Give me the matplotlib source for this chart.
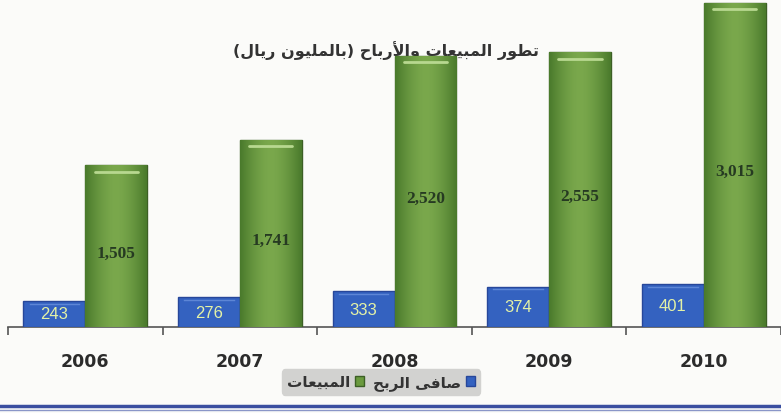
import numpy as np
import matplotlib
matplotlib.use("Agg")
import matplotlib.pyplot as plt
from matplotlib.lines import Line2D
from matplotlib.patches import Patch

years = ["2006", "2007", "2008", "2009", "2010"]
profit = [243, 276, 333, 374, 401]
sales = [1505, 1741, 2520, 2555, 3015]
title_ar = "تطور المبيعات والأرباح (بالمليون ريال)"
label_profit = "صافى الربح"
label_sales = "المبيعات"

# --- tiny arabic shaper (matplotlib has no complex text layout) ---
FORMS = {
    "ا": ("\uFE8D", "\uFE8E", None, None),
    "أ": ("\uFE83", "\uFE84", None, None),
    "ب": ("\uFE8F", "\uFE90", "\uFE91", "\uFE92"),
    "ت": ("\uFE95", "\uFE96", "\uFE97", "\uFE98"),
    "ح": ("\uFEA1", "\uFEA2", "\uFEA3", "\uFEA4"),
    "ر": ("\uFEAD", "\uFEAE", None, None),
    "ص": ("\uFEB9", "\uFEBA", "\uFEBB", "\uFEBC"),
    "ط": ("\uFEC1", "\uFEC2", "\uFEC3", "\uFEC4"),
    "ع": ("\uFEC9", "\uFECA", "\uFECB", "\uFECC"),
    "ف": ("\uFED1", "\uFED2", "\uFED3", "\uFED4"),
    "ل": ("\uFEDD", "\uFEDE", "\uFEDF", "\uFEE0"),
    "م": ("\uFEE1", "\uFEE2", "\uFEE3", "\uFEE4"),
    "ن": ("\uFEE5", "\uFEE6", "\uFEE7", "\uFEE8"),
    "و": ("\uFEED", "\uFEEE", None, None),
    "ى": ("\uFEEF", "\uFEF0", None, None),
    "ي": ("\uFEF1", "\uFEF2", "\uFEF3", "\uFEF4"),
    "LA": ("\uFEFB", "\uFEFC", None, None),
    "LAH": ("\uFEF7", "\uFEF8", None, None),
}


def shape(text):
    toks = []
    i = 0
    while i < len(text):
        c = text[i]
        if c == "ل" and i + 1 < len(text) and text[i + 1] in "اأ":
            toks.append("LA" if text[i + 1] == "ا" else "LAH")
            i += 2
            continue
        toks.append(c)
        i += 1
    out = []
    for k, t in enumerate(toks):
        if t not in FORMS:
            out.append({"(": ")", ")": "("}.get(t, t))
            continue
        prev = toks[k - 1] if k > 0 else None
        nxt = toks[k + 1] if k + 1 < len(toks) else None
        jp = prev in FORMS and FORMS[prev][2] is not None
        jn = FORMS[t][2] is not None and nxt in FORMS
        iso, fin, ini, med = FORMS[t]
        if jp and jn:
            out.append(med)
        elif jp:
            out.append(fin)
        elif jn:
            out.append(ini)
        else:
            out.append(iso)
    return "".join(reversed(out))


fig = plt.figure(figsize=(7.81, 4.14), dpi=100)
fig.patch.set_facecolor("#fbfbf9")
ax = fig.add_axes([8 / 781, 86 / 414, 773 / 781, 328 / 414])
ax.set_facecolor("none")

x = np.arange(len(years))
w = 0.4
b1 = ax.bar(x - w / 2, profit, w, color="#3462c0", edgecolor="#27479a", linewidth=1, zorder=3)
b2 = ax.bar(x + w / 2, sales, w, color="#5f8f38", edgecolor="#3c5f25", linewidth=1, zorder=3)

# cylinder-like shading on the sales bars
grad = np.abs(np.linspace(-1, 1, 64)) ** 1.6
cmap = matplotlib.colors.LinearSegmentedColormap.from_list("g", ["#7aa84c", "#4a7a2c"])
for bar in b2:
    bx, by = bar.get_x(), bar.get_y()
    bw, bh = bar.get_width(), bar.get_height()
    im = ax.imshow(grad[None, :], cmap=cmap, aspect="auto", extent=[bx, bx + bw, by, by + bh],
                   zorder=3.5)
    im.set_clip_path(bar)
    ax.plot([bx + bw * 0.15, bx + bw * 0.85], [by + bh - 60, by + bh - 60], color="#b8d890",
            lw=2, zorder=4, solid_capstyle="round")
for bar in b1:
    bx, bw, bh = bar.get_x(), bar.get_width(), bar.get_height()
    ax.plot([bx + bw * 0.1, bx + bw * 0.9], [bh - 25, bh - 25], color="#5d86d6", lw=1, zorder=4)

for xi, p, s in zip(x, profit, sales):
    ax.text(xi - w / 2, p / 2, f"{p:,}", ha="center", va="center", color="#e4f2a6",
            fontsize=12, family="Liberation Sans", zorder=5)
    ax.text(xi + w / 2, s / 2 - 60, f"{s:,}", ha="center", va="center", color="#263a22",
            fontsize=12.5, fontweight="bold", family="Liberation Serif", zorder=5)

ax.set_xlim(-0.5, 4.455)
ax.set_ylim(0, 3048)
for sp in ["top", "right", "left"]:
    ax.spines[sp].set_visible(False)
ax.spines["bottom"].set_color("#555555")
ax.spines["bottom"].set_linewidth(1.2)
ax.set_yticks([])
ax.set_xticks(x)
ax.set_xticklabels(years, fontsize=12.5, fontweight="bold", color="#2b2b2b", family="Liberation Sans Narrow")
ax.tick_params(axis="x", which="major", length=0, pad=18)
ax.set_xticks(np.arange(-0.5, 5, 1), minor=True)
ax.tick_params(axis="x", which="minor", length=6, width=1.2, color="#555555", direction="out")

# title sits behind the bars, as in the original
ax.text(386 / 781, 1 - 51 / 414, shape(title_ar), transform=fig.transFigure, ha="center", va="center",
        fontsize=11.5, fontweight="bold", color="#333333", family=["DejaVu Sans"], zorder=2, clip_on=False)

handles = [Patch(facecolor="#6a9a3e", edgecolor="#3c5f25"), Patch(facecolor="#3462c0", edgecolor="#27479a")]
leg = fig.legend(handles, [shape(label_sales), shape(label_profit)], ncol=2, markerfirst=False,
                 loc="center", bbox_to_anchor=(381 / 781, 1 - 383 / 414), frameon=True,
                 handlelength=0.6, handleheight=0.6, handletextpad=0.3,
                 columnspacing=0.6, borderpad=0.3, prop={"family": "DejaVu Sans", "weight": "bold", "size": 11})
leg.get_frame().set_facecolor("#d2d2d0")
leg.get_frame().set_edgecolor("#d2d2d0")
leg.get_frame().set_alpha(1)
for t in leg.get_texts():
    t.set_color("#333333")

fig.add_artist(Line2D([0, 1], [1 - 407 / 414, 1 - 407 / 414], color="#3a4ea0", lw=2.5))
fig.add_artist(Line2D([0, 1], [1 - 411 / 414, 1 - 411 / 414], color="#8a96c8", lw=1))

fig.savefig("out.png", dpi=100)
